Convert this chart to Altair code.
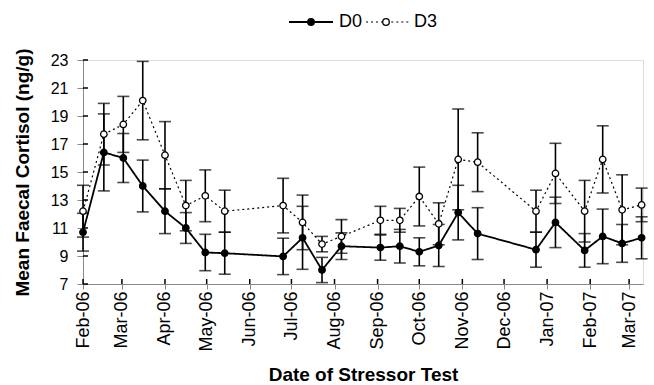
import altair as alt
import pandas as pd

# ---- data ----
dates = ["2006-02-01", "2006-02-16", "2006-03-02", "2006-03-16", "2006-04-01", "2006-04-16",
         "2006-04-30", "2006-05-14", "2006-06-25", "2006-07-09", "2006-07-23", "2006-08-06",
         "2006-09-03", "2006-09-17", "2006-10-01", "2006-10-15", "2006-10-29", "2006-11-12",
         "2006-12-24", "2007-01-07", "2007-01-28", "2007-02-10", "2007-02-24", "2007-03-10"]
d0_mean = [10.7, 16.4, 16.0, 14.0, 12.2, 11.0, 9.25, 9.2, 8.97, 10.3, 8.0, 9.7,
           9.6, 9.7, 9.3, 9.75, 12.1, 10.6, 9.45, 11.4, 9.4, 10.4, 9.9, 10.3]
d0_err = [1.35, 2.75, 1.75, 1.85, 1.6, 1.1, 1.3, 1.5, 1.3, 2.25, 0.9, 0.95,
          0.9, 1.2, 1.0, 1.5, 1.95, 1.85, 1.25, 1.8, 1.2, 1.95, 1.35, 1.5]
d3_mean = [12.2, 17.7, 18.4, 20.1, 16.2, 12.6, 13.3, 12.2, 12.6, 11.4, 9.85, 10.4,
           11.55, 11.55, 13.25, 11.3, 15.9, 15.7, 12.2, 14.9, 12.2, 15.9, 12.3, 12.65]
d3_err = [1.85, 2.2, 2.0, 2.8, 2.4, 1.8, 1.85, 1.5, 1.95, 1.95, 0.55, 1.2,
          1.0, 0.85, 2.1, 1.5, 3.6, 2.1, 1.5, 2.15, 2.2, 2.4, 2.5, 1.2]
series_names = ["D0", "D3"]
y_ticks = [7, 9, 11, 13, 15, 17, 19, 21, 23]
month_ticks = ["2006-02-01", "2006-03-01", "2006-04-01", "2006-05-01", "2006-06-01",
               "2006-07-01", "2006-08-01", "2006-09-01", "2006-10-01", "2006-11-01",
               "2006-12-01", "2007-01-01", "2007-02-01", "2007-03-01"]

rows = []
for name, means, errs in [("D0", d0_mean, d0_err), ("D3", d3_mean, d3_err)]:
    for d, m, e in zip(dates, means, errs):
        rows.append({"date": pd.Timestamp(d), "series": name, "mean": m,
                     "lo": m - e, "hi": m + e})
df = pd.DataFrame(rows)

# axis-tick helper tables use the same field names as the main data
month_df = pd.DataFrame({"date": pd.to_datetime(month_ticks)})
ytick_df = pd.DataFrame({"mean": y_ticks})

FONT = "Liberation Sans"


def dt(s):
    t = pd.Timestamp(s)
    return alt.DateTime(year=t.year, month=t.month, date=t.day)


x_scale = alt.Scale(domain=[dt("2006-02-01"), dt("2007-03-11")])
y_scale = alt.Scale(domain=[7, 23], nice=False, zero=False)

x_axis = alt.Axis(values=[dt(m) for m in month_ticks], format="%b-%y", grid=False,
                  labelAngle=-90, labelFontSize=18, labelPadding=2,
                  tickSize=5, title="Date of Stressor Test",
                  titleFontSize=19, titleFontWeight="bold", titlePadding=14)
y_axis = alt.Axis(values=y_ticks, labelFontSize=16, labelPadding=9, tickSize=6, grid=False,
                  title="Mean Faecal Cortisol (ng/g)", titleFontSize=19,
                  titleFontWeight="bold", titlePadding=18)

X = alt.X("date:T", scale=x_scale, axis=x_axis)
Y = alt.Y("mean:Q", scale=y_scale, axis=y_axis)

legend_common = dict(title=None, orient="none", legendX=205, legendY=-61,
                     direction="horizontal", symbolSize=1936, labelFontSize=18,
                     labelFont=FONT, labelColor="black", padding=0)

base = alt.Chart(df)

lines = base.mark_line(color="black").encode(
    x=X, y=Y,
    detail="series:N",
    strokeDash=alt.StrokeDash(
        "series:N",
        scale=alt.Scale(domain=series_names, range=[[1, 0], [2, 3]]),
        legend=alt.Legend(symbolType="M-1,0L-0.15,0M0.15,0L1,0",
                          symbolStrokeColor="black", symbolStrokeWidth=1.5,
                          symbolFillColor="transparent", labelExpr="''",
                          labelOffset=0, columnPadding=26, **legend_common)),
    strokeWidth=alt.StrokeWidth("series:N",
                                scale=alt.Scale(domain=series_names, range=[1.8, 1.2]),
                                legend=None),
)

bars = base.mark_rule(color="black", strokeWidth=1.6).encode(
    x=X, y=alt.Y("lo:Q", scale=y_scale, axis=y_axis), y2="hi:Q")
caps_lo = base.mark_tick(color="black", orient="horizontal", size=12, thickness=1.6).encode(
    x=X, y=alt.Y("lo:Q", scale=y_scale, axis=y_axis))
caps_hi = base.mark_tick(color="black", orient="horizontal", size=12, thickness=1.6).encode(
    x=X, y=alt.Y("hi:Q", scale=y_scale, axis=y_axis))

points = base.mark_point(shape="circle", size=42, stroke="black", strokeWidth=1.3,
                         opacity=1).encode(
    x=X, y=Y,
    fill=alt.Fill("series:N", scale=alt.Scale(range=["black", "white"]),
                  legend=alt.Legend(symbolType="M-0.15,0A0.15,0.15,0,1,1,0.15,0A0.15,0.15,0,1,1,-0.15,0",
                                    symbolStrokeColor="black", symbolStrokeWidth=1.3,
                                    labelOffset=5, columnPadding=-2, **legend_common)),
)

ytick_in = alt.Chart(ytick_df).mark_rule(color="black", strokeWidth=1.5).encode(
    y=Y, x=alt.value(0), x2=alt.value(5))
xtick_in = alt.Chart(month_df).mark_rule(color="black", strokeWidth=1.5).encode(
    x=X, y=alt.value(224), y2=alt.value(219))

chart = alt.layer(lines, bars, caps_lo, caps_hi, points, ytick_in, xtick_in).properties(
    width=560, height=224,
    autosize=alt.AutoSizeParams(type="none"),
    padding={"left": 83, "top": 60, "right": 11, "bottom": 101},
).configure_view(strokeWidth=0, stroke="transparent").configure_axis(
    grid=False, domainColor="black", domainWidth=1.5, tickColor="black", tickWidth=1.5,
    labelColor="black", titleColor="black", labelFont=FONT, titleFont=FONT,
).configure(background="white")

chart.save("out.html", embed_options={"renderer": "svg", "actions": False})
